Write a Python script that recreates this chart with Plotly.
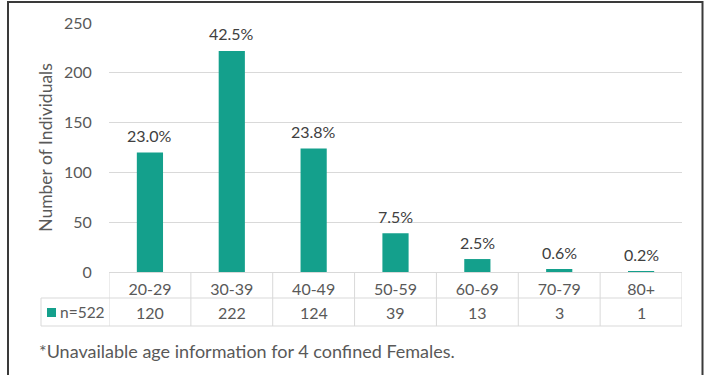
import plotly.graph_objects as go

categories = ["20-29", "30-39", "40-49", "50-59", "60-69", "70-79", "80+"]
counts = [120, 222, 124, 39, 13, 3, 1]
percent_labels = ["23.0%", "42.5%", "23.8%", "7.5%", "2.5%", "0.6%", "0.2%"]
series_name = "n=522"
footnote = "*Unavailable age information for 4 confined Females."
y_title = "Number of Individuals"
y_ticks = [0, 50, 100, 150, 200, 250]

BAR = "#14A08C"
GRID = "#D9D9D9"
TXT = "#595959"
FONT = "Lato, Carlito, Calibri, sans-serif"

W, H = 709, 375
L, R, T, B = 109, 709 - 682, 23, 375 - 272
PW, PH = W - L - R, H - T - B


def px_x(x):
    return (x - L) / PW


def px_y(y):
    return (H - B - y) / PH


fig = go.Figure()
fig.add_trace(go.Bar(
    x=categories, y=counts, name=series_name,
    marker=dict(color=BAR, line=dict(width=0)),
    width=0.32, showlegend=False, hoverinfo="x+y",
))

annotations = []
for c, v, p in zip(categories, counts, percent_labels):
    annotations.append(dict(
        x=c, y=v, xref="x", yref="y", text=p, showarrow=False,
        yanchor="middle", yshift=17,
        font=dict(family=FONT, size=16, color="#404040"),
    ))
    annotations.append(dict(
        x=c, y=px_y(312), xref="x", yref="paper", text=str(v), showarrow=False,
        yanchor="middle", font=dict(family=FONT, size=16, color=TXT),
    ))

annotations.append(dict(
    x=px_x(58), y=px_y(312), xref="paper", yref="paper", text=series_name,
    showarrow=False, xanchor="left", yanchor="middle",
    font=dict(family=FONT, size=15.5, color=TXT),
))
annotations.append(dict(
    x=px_x(37), y=px_y(351), xref="paper", yref="paper", text=footnote,
    showarrow=False, xanchor="left", yanchor="middle",
    font=dict(family=FONT, size=18, color=TXT),
))

shapes = []
n = len(categories)
# table vertical lines at category boundaries
for i in range(n + 1):
    shapes.append(dict(type="line", xref="x", yref="paper", x0=i - 0.5, x1=i - 0.5,
                       y0=0, y1=px_y(326), line=dict(color=GRID, width=1)))
# left legend column line
shapes.append(dict(type="line", xref="paper", yref="paper", x0=px_x(41), x1=px_x(41),
                   y0=px_y(298), y1=px_y(326), line=dict(color=GRID, width=1)))
# horizontal table lines
for yy in (298, 326):
    shapes.append(dict(type="line", xref="paper", yref="paper", x0=px_x(41), x1=1,
                       y0=px_y(yy), y1=px_y(yy), line=dict(color=GRID, width=1)))
# legend key
shapes.append(dict(type="rect", xref="paper", yref="paper", x0=px_x(47), x1=px_x(56),
                   y0=px_y(308), y1=px_y(317), fillcolor=BAR, line=dict(width=0)))
# outer border
shapes.append(dict(type="rect", xref="paper", yref="paper", x0=px_x(8), x1=px_x(702.5),
                   y0=px_y(2), y1=px_y(390), line=dict(color="#3A3A3A", width=2),
                   fillcolor="rgba(0,0,0,0)"))

fig.update_layout(
    width=W, height=H,
    margin=dict(l=L, r=R, t=T, b=B, pad=0),
    paper_bgcolor="white", plot_bgcolor="white",
    font=dict(family=FONT, size=16, color=TXT),
    bargap=0.68,
    annotations=annotations, shapes=shapes,
    xaxis=dict(
        type="category", range=[-0.5, n - 0.5],
        showgrid=False, showline=True, linecolor=GRID, linewidth=1,
        ticks="outside", ticklen=3, tickcolor="rgba(0,0,0,0)",
        tickfont=dict(family=FONT, size=16, color=TXT), zeroline=False,
    ),
    yaxis=dict(
        range=[0, 250], tickvals=y_ticks, showgrid=True, gridcolor=GRID, gridwidth=1,
        zeroline=False, showline=False,
        ticks="outside", ticklen=13, tickcolor="rgba(0,0,0,0)",
        tickfont=dict(family=FONT, size=16, color=TXT),
        title=dict(text=y_title, font=dict(family=FONT, size=17.5, color=TXT), standoff=6),
    ),
)

fig.write_html("out.html")
